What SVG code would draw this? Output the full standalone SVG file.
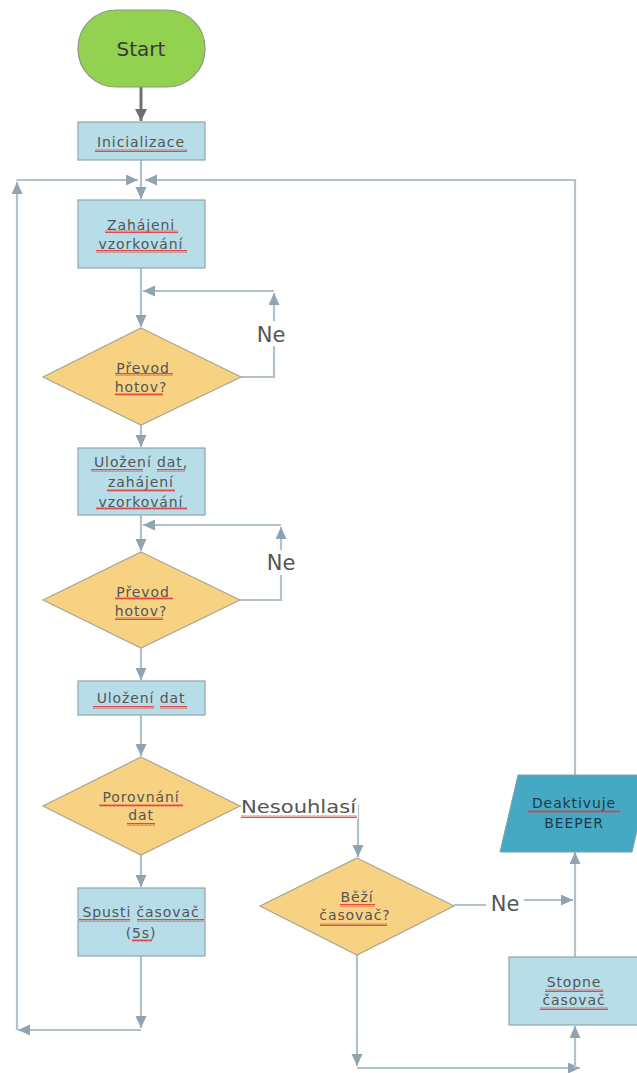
<svg xmlns="http://www.w3.org/2000/svg" width="637" height="1073" viewBox="0 0 637 1073">
  <defs>
    <marker id="arr" markerUnits="userSpaceOnUse" markerWidth="14" markerHeight="12" refX="12" refY="5.5" orient="auto">
      <path d="M0,0 L12,5.5 L0,11 Z" fill="#8fa3b0"/>
    </marker>
    <marker id="arrDark" markerUnits="userSpaceOnUse" markerWidth="14" markerHeight="12" refX="12" refY="6" orient="auto">
      <path d="M0,0 L12,6 L0,12 Z" fill="#6f6f6f"/>
    </marker>
    <pattern id="wave" patternUnits="userSpaceOnUse" width="4" height="3">
      <path d="M0,2.5 L1,0.5 L2,2.5 L3,0.5 L4,2.5" fill="none" stroke="#e03a3a" stroke-width="0.9"/>
    </pattern>
    <style>
      .box { fill: #b6dde8; stroke: #8fa5b0; stroke-width: 1.2; }
      .dia { fill: #f8d283; stroke: #a9a595; stroke-width: 1.2; }
      .ln { fill: none; stroke: #b3c1ca; stroke-width: 2.2; marker-end: url(#arr); }
      .ln0 { fill: none; stroke: #b3c1ca; stroke-width: 2.2; }
      .t { font-family: "DejaVu Sans", "Liberation Sans", sans-serif; font-size: 14px; fill: #555555; text-anchor: middle; letter-spacing: 0.9px; }
      .lbl { font-family: "DejaVu Sans", "Liberation Sans", sans-serif; fill: #555555; }
      .bg { fill: #ffffff; }
      .sp { fill: url(#wave); }
    </style>
  </defs>

  <!-- connectors -->
  <g id="connectors">
    <path d="M141,87 V121" fill="none" stroke="#707070" stroke-width="3" marker-end="url(#arrDark)"/>
    <path class="ln" d="M141,160 V199"/>
    <!-- outer return loop on the left -->
    <path class="ln" d="M141,956 V1028"/>
    <path class="ln" d="M141,1030 H18"/>
    <path class="ln" d="M17,1030 V182"/>
    <path class="ln0" d="M17,181 V180"/>
    <path class="ln" d="M17,180 H138"/>
    <!-- return line from the beeper branch -->
    <path class="ln" d="M575,776 V180 H145"/>
    <!-- first conversion wait loop -->
    <path class="ln" d="M141,268 V327"/>
    <path class="ln" d="M241,377 H274 V293"/>
    <path class="ln" d="M274,291 H143"/>
    <path class="ln" d="M141,425 V447"/>
    <!-- second conversion wait loop -->
    <path class="ln" d="M141,515 V551"/>
    <path class="ln" d="M240,600 H281 V527"/>
    <path class="ln" d="M281,525 H143"/>
    <path class="ln" d="M141,648 V680"/>
    <path class="ln" d="M141,715 V756"/>
    <path class="ln" d="M141,855 V887"/>
    <!-- mismatch branch -->
    <path class="ln" d="M240,806 H358 V857"/>
    <path class="ln" d="M454,905 H505 V900 H573"/>
    <path class="ln" d="M357,955 V1066"/>
    <path class="ln" d="M357,1068 H580"/>
    <path class="ln" d="M575,1068 V1026"/>
    <path class="ln" d="M575,957 V852"/>
    <!-- connector labels -->
    <rect class="bg" x="255" y="321" width="32" height="25"/>
    <text class="lbl" x="271" y="342" font-size="21" text-anchor="middle">Ne</text>
    <rect class="bg" x="265" y="550" width="32" height="25"/>
    <text class="lbl" x="281" y="570" font-size="21" text-anchor="middle">Ne</text>
    <rect class="bg" x="486" y="892" width="38" height="24"/>
    <text class="lbl" x="505" y="911" font-size="21" text-anchor="middle">Ne</text>
    <rect class="bg" x="241" y="795" width="117" height="24"/>
    <text class="lbl" x="241" y="813" font-size="18" textLength="115" lengthAdjust="spacingAndGlyphs">Nesouhlasí</text>
    <rect class="sp" x="241" y="815" width="116" height="3"/>
  </g>

  <g id="start">
    <rect x="78" y="10" width="127" height="77" rx="38" ry="38" fill="#93d150" stroke="#8a9a80" stroke-width="1.2"/>
    <text x="141" y="56" font-family="DejaVu Sans, sans-serif" font-size="20" fill="#3a3a3a" text-anchor="middle">Start</text>
  </g>

  <g id="inicializace">
    <rect class="box" x="78" y="122" width="127" height="38"/>
    <text class="t" x="141" y="147">Inicializace</text>
    <rect class="sp" x="95" y="149" width="92" height="3"/>
  </g>

  <g id="zahajeni">
    <rect class="box" x="78" y="200" width="127" height="68"/>
    <text class="t" x="141" y="230">Zahájeni</text>
    <text class="t" x="141" y="249">vzorkování</text>
    <rect class="sp" x="105" y="230" width="73" height="3"/>
    <rect class="sp" x="96" y="250" width="91" height="3"/>
  </g>

  <g id="prevod1">
    <polygon class="dia" points="141,328 241,377 141,425 43,377"/>
    <text class="t" x="143" y="373">Převod</text>
    <text class="t" x="141" y="392">hotov?</text>
    <rect class="sp" x="115" y="373" width="58" height="3"/>
    <rect class="sp" x="115" y="393" width="48" height="3"/>
  </g>

  <g id="ulozeni-zahajeni">
    <rect class="box" x="78" y="448" width="127" height="67"/>
    <text class="t" x="141" y="467">Uložení dat,</text>
    <text class="t" x="141" y="487">zahájení</text>
    <text class="t" x="141" y="507">vzorkování</text>
    <rect class="sp" x="91" y="469" width="52" height="3"/>
    <rect class="sp" x="157" y="469" width="28" height="3"/>
    <rect class="sp" x="107" y="489" width="68" height="3"/>
    <rect class="sp" x="96" y="507" width="91" height="3"/>
  </g>

  <g id="prevod2">
    <polygon class="dia" points="141,552 240,600 141,648 43,600"/>
    <text class="t" x="143" y="597">Převod</text>
    <text class="t" x="141" y="616">hotov?</text>
    <rect class="sp" x="115" y="597" width="58" height="3"/>
    <rect class="sp" x="115" y="617" width="48" height="3"/>
  </g>

  <g id="ulozeni">
    <rect class="box" x="78" y="681" width="127" height="34"/>
    <text class="t" x="141" y="703">Uložení dat</text>
    <rect class="sp" x="93" y="706" width="61" height="3"/>
    <rect class="sp" x="160" y="706" width="27" height="3"/>
  </g>

  <g id="porovnani">
    <polygon class="dia" points="141,757 240,806 141,855 43,806"/>
    <text class="t" x="141" y="802">Porovnání</text>
    <text class="t" x="141" y="820">dat</text>
    <rect class="sp" x="99" y="804" width="84" height="3"/>
    <rect class="sp" x="127" y="823" width="28" height="3"/>
  </g>

  <g id="spusti">
    <rect class="box" x="78" y="888" width="127" height="68"/>
    <text class="t" x="141" y="917" letter-spacing="0.4">Spusti časovač</text>
    <text class="t" x="141" y="938">(5s)</text>
    <rect class="sp" x="79" y="919" width="51" height="3"/>
    <rect class="sp" x="137" y="919" width="67" height="3"/>
    <rect class="sp" x="132" y="939" width="20" height="3"/>
  </g>

  <g id="bezi">
    <polygon class="dia" points="357,858 454,906 357,955 260,906"/>
    <text class="t" x="357" y="902">Běží</text>
    <text class="t" x="355" y="920">časovač?</text>
    <rect class="sp" x="340" y="904" width="35" height="3"/>
    <rect class="sp" x="320" y="923" width="67" height="3"/>
  </g>

  <g id="stopne">
    <rect class="box" x="509" y="957" width="130" height="68"/>
    <text class="t" x="574" y="987">Stopne</text>
    <text class="t" x="574" y="1005">časovač</text>
    <rect class="sp" x="545" y="989" width="58" height="3"/>
    <rect class="sp" x="540" y="1007" width="68" height="3"/>
  </g>

  <g id="deaktivuje">
    <polygon points="518,775 650,775 632,852 500,852" fill="#46a9c3" stroke="#7f9fab" stroke-width="1"/>
    <text class="t" x="574" y="808" style="fill:#1e3a48">Deaktivuje</text>
    <text class="t" x="574" y="828" style="fill:#1e3a48">BEEPER</text>
    <rect class="sp" x="528" y="810" width="92" height="3"/>
  </g>
</svg>
